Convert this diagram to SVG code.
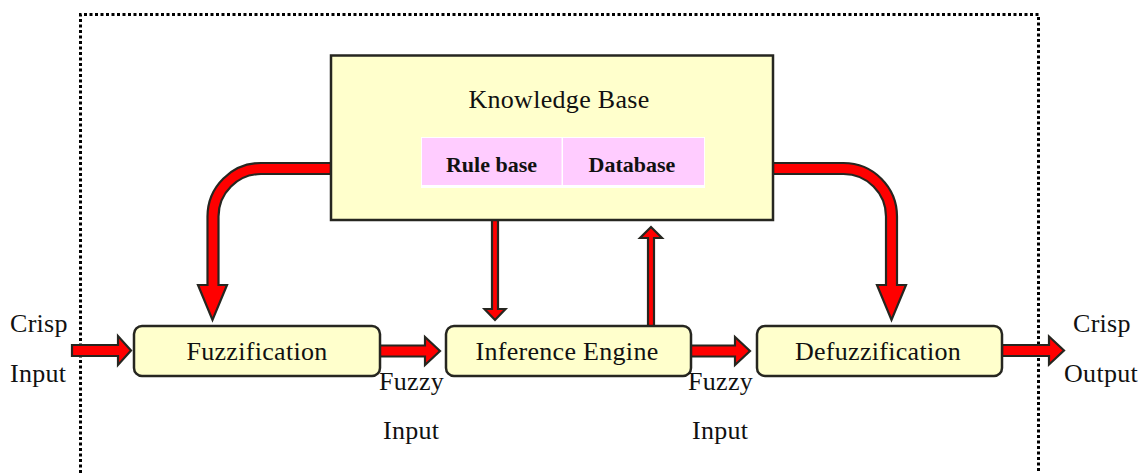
<svg xmlns="http://www.w3.org/2000/svg" width="1144" height="473" viewBox="0 0 1144 473">
<style>
.t{font-family:"Liberation Serif","Times New Roman",serif;font-size:26px;letter-spacing:0.3px;fill:#111;}
.b{font-family:"Liberation Serif","Times New Roman",serif;font-size:22px;font-weight:bold;fill:#111;}
.box{fill:#FFFFCC;stroke:#262620;stroke-width:2.5;}
.arr{fill:#FF0000;stroke:#262620;stroke-width:2.2;stroke-linejoin:miter;}
.cell{fill:#FFCCFF;}
</style>
<rect x="0" y="0" width="1144" height="473" fill="#fff"/>
<path d="M80.5,473 V14.5 H1038.5 V473" fill="none" stroke="#000" stroke-width="3" stroke-dasharray="3,2.5"/>
<g id="connectors">
<path class="arr" d="M331,163 H261 A53.5,53.5 0 0 0 207.5,216.5 V285 H198 L212.5,320 L227,285 H218.5 V216.5 A42.5,42.5 0 0 1 261,174 H331 Z"/>
<path class="arr" d="M773,163 H843.5 A53.5,53.5 0 0 1 897,216.5 V285 H906 L891.5,320 L877,285 H886 V216.5 A42.5,42.5 0 0 0 843.5,174 H773 Z"/>
<path class="arr" d="M492,220 V309 H484.5 L495,320 L505.5,309 H498 V220 Z"/>
<path class="arr" d="M648,326 V238 H640 L651,227 L662,238 H654 V326 Z"/>
<path class="arr" d="M72,345 H118 V336 L131,350.5 L118,365 V356 H72 Z"/>
<path class="arr" d="M378,345.5 H425 V337 L440,351 L425,365 V356.5 H378 Z"/>
<path class="arr" d="M690,345.5 H735 V337 L750,351 L735,365 V356.5 H690 Z"/>
<path class="arr" d="M1002,345 H1049 V336.5 L1064,350.5 L1049,364.5 V356 H1002 Z"/>
</g>
<g id="knowledge-base">
<rect class="box" x="331" y="55.5" width="442" height="164.5"/>
<text class="t" x="559" y="108" text-anchor="middle">Knowledge Base</text>
<rect x="421" y="137" width="284" height="51" fill="#fff"/>
<rect class="cell" x="422" y="138" width="139.5" height="47"/>
<rect class="cell" x="563" y="138" width="141" height="47"/>
<text class="b" x="491.5" y="172" text-anchor="middle">Rule base</text>
<text class="b" x="632" y="172" text-anchor="middle">Database</text>
</g>
<g id="fuzzification">
<rect class="box" x="134" y="326" width="246" height="50" rx="8"/>
<text class="t" x="257" y="360" text-anchor="middle">Fuzzification</text>
</g>
<g id="inference-engine">
<rect class="box" x="446" y="326" width="245" height="50" rx="8"/>
<text class="t" x="567" y="360" text-anchor="middle">Inference Engine</text>
</g>
<g id="defuzzification">
<rect class="box" x="757" y="326" width="245" height="50" rx="8"/>
<text class="t" x="878" y="360" text-anchor="middle">Defuzzification</text>
</g>
<g id="labels">
<text class="t" x="10" y="332">Crisp</text>
<text class="t" x="10" y="382">Input</text>
<text class="t" x="1073" y="332">Crisp</text>
<text class="t" x="1064" y="382">Output</text>
<text class="t" x="379" y="390">Fuzzy</text>
<text class="t" x="383" y="439">Input</text>
<text class="t" x="688" y="390">Fuzzy</text>
<text class="t" x="692" y="439">Input</text>
</g>
</svg>
